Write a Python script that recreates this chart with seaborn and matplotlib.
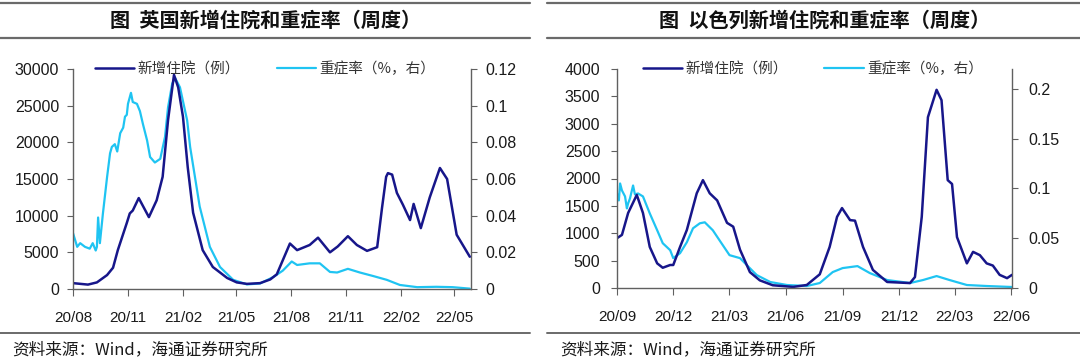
import numpy as np
import pandas as pd
import matplotlib
matplotlib.use("Agg")
import matplotlib.pyplot as plt
import matplotlib.dates as mdates
from matplotlib.lines import Line2D
from matplotlib.ticker import FuncFormatter
import seaborn as sns

# ---- 英国 (UK) ----
uk_hosp_dates = ["2020-08-01", "2020-08-26", "2020-09-10", "2020-09-27", "2020-10-07", "2020-10-15",
                 "2020-10-30", "2020-11-04", "2020-11-09", "2020-11-19", "2020-12-06", "2020-12-19",
                 "2020-12-29", "2021-01-07", "2021-01-17", "2021-01-24", "2021-02-01", "2021-02-09",
                 "2021-02-18", "2021-03-06", "2021-03-23", "2021-04-16", "2021-05-02", "2021-05-19",
                 "2021-06-10", "2021-06-27", "2021-07-08", "2021-07-30", "2021-08-11", "2021-09-01",
                 "2021-09-15", "2021-10-05", "2021-10-18", "2021-11-04", "2021-11-19", "2021-12-06",
                 "2021-12-23", "2021-12-31", "2022-01-07", "2022-01-10", "2022-01-17", "2022-01-25",
                 "2022-02-04", "2022-02-16", "2022-02-22", "2022-03-06", "2022-03-21", "2022-04-07",
                 "2022-04-19", "2022-05-05", "2022-05-27"]
uk_hosp = [800, 600, 900, 1900, 2900, 5300,
           9000, 10300, 10700, 12400, 9800, 12100,
           15300, 23000, 29200, 27500, 23500, 16600,
           10400, 5300, 3000, 1500, 900, 700,
           800, 1300, 2000, 6200, 5300, 6000,
           7000, 5000, 5800, 7200, 6000, 5200,
           5700, 11000, 15300, 15800, 15600, 13100,
           11500, 9400, 11600, 8300, 12500, 16500,
           15000, 7400, 4400]

uk_sev_dates = ["2020-08-01", "2020-08-08", "2020-08-13", "2020-08-21", "2020-08-29", "2020-09-03",
                "2020-09-08", "2020-09-10", "2020-09-12", "2020-09-15", "2020-09-20", "2020-09-27",
                "2020-10-02", "2020-10-05", "2020-10-10", "2020-10-14", "2020-10-19", "2020-10-24",
                "2020-10-27", "2020-10-30", "2020-11-01", "2020-11-06", "2020-11-09", "2020-11-16",
                "2020-11-21", "2020-11-26", "2020-12-03", "2020-12-08", "2020-12-16", "2020-12-25",
                "2021-01-02", "2021-01-07", "2021-01-14", "2021-01-19", "2021-01-27", "2021-02-08",
                "2021-02-13", "2021-03-01", "2021-03-18", "2021-04-04", "2021-04-26", "2021-05-19",
                "2021-06-10", "2021-07-02", "2021-07-18", "2021-08-02", "2021-08-11", "2021-09-01",
                "2021-09-18", "2021-10-05", "2021-10-17", "2021-11-04", "2021-11-24", "2021-12-16",
                "2022-01-08", "2022-01-30", "2022-02-28", "2022-04-01", "2022-04-28", "2022-05-27"]
uk_sev = [0.0305, 0.023, 0.025, 0.023, 0.022, 0.025,
          0.021, 0.023, 0.039, 0.025, 0.041, 0.061,
          0.074, 0.0775, 0.079, 0.075, 0.085, 0.088,
          0.094, 0.095, 0.101, 0.107, 0.102, 0.101,
          0.097, 0.090, 0.081, 0.072, 0.069, 0.071,
          0.083, 0.099, 0.112, 0.115, 0.110, 0.092,
          0.0775, 0.045, 0.023, 0.012, 0.005, 0.0025,
          0.003, 0.0065, 0.010, 0.015, 0.0131, 0.014,
          0.014, 0.0093, 0.009, 0.011, 0.009, 0.0071,
          0.005, 0.0022, 0.001, 0.0012, 0.001, 0.0002]

# ---- 以色列 (Israel) ----
il_hosp_dates = ["2020-09-01", "2020-09-09", "2020-09-19", "2020-10-03", "2020-10-13", "2020-10-24",
                 "2020-11-05", "2020-11-14", "2020-11-26", "2020-12-01", "2020-12-12", "2020-12-23",
                 "2021-01-08", "2021-01-18", "2021-01-29", "2021-02-10", "2021-02-26", "2021-03-08",
                 "2021-03-19", "2021-04-04", "2021-04-20", "2021-05-11", "2021-06-13", "2021-07-05",
                 "2021-07-26", "2021-08-11", "2021-08-23", "2021-08-31", "2021-09-13", "2021-09-21",
                 "2021-10-04", "2021-10-20", "2021-11-12", "2021-12-19", "2021-12-27", "2022-01-07",
                 "2022-01-17", "2022-01-31", "2022-02-08", "2022-02-18", "2022-02-25", "2022-03-05",
                 "2022-03-21", "2022-03-31", "2022-04-11", "2022-04-22", "2022-05-02", "2022-05-13",
                 "2022-05-25", "2022-06-02"]
il_hosp = [910, 970, 1370, 1700, 1370, 750,
           450, 370, 420, 420, 750, 1060,
           1730, 1970, 1730, 1600, 1190, 1120,
           700, 290, 140, 50, 20, 55,
           250, 750, 1300, 1460, 1240, 1230,
           750, 330, 110, 90, 200, 1300,
           3120, 3620, 3430, 1970, 1900, 930,
           450, 660, 600, 450, 410, 240,
           180, 240]

il_sev_dates = ["2020-09-01", "2020-09-04", "2020-09-06", "2020-09-09", "2020-09-14", "2020-09-17",
                "2020-09-19", "2020-09-22", "2020-09-27", "2020-09-30", "2020-10-05", "2020-10-13",
                "2020-10-24", "2020-11-05", "2020-11-14", "2020-11-26", "2020-12-01", "2020-12-12",
                "2020-12-23", "2021-01-02", "2021-01-13", "2021-01-21", "2021-02-03", "2021-02-17",
                "2021-03-02", "2021-03-19", "2021-03-30", "2021-04-15", "2021-05-07", "2021-06-03",
                "2021-07-05", "2021-07-26", "2021-08-16", "2021-09-01", "2021-09-25", "2021-10-15",
                "2021-11-12", "2021-12-19", "2022-01-09", "2022-01-31", "2022-02-21", "2022-03-21",
                "2022-04-22", "2022-06-02"]
il_sev = [0.095, 0.088, 0.105, 0.098, 0.092, 0.080,
          0.085, 0.090, 0.103, 0.094, 0.095, 0.092,
          0.075, 0.058, 0.045, 0.038, 0.030, 0.035,
          0.046, 0.060, 0.065, 0.066, 0.058, 0.045,
          0.033, 0.030, 0.023, 0.013, 0.006, 0.003,
          0.002, 0.005, 0.016, 0.020, 0.022, 0.015,
          0.008, 0.005, 0.008, 0.012, 0.008, 0.003,
          0.002, 0.001]

NAVY = "#17168a"
CYAN = "#1fc4f2"
GREY = "#606060"

sns.set_style("ticks")
plt.rcParams["font.family"] = ["Liberation Sans", "Noto Sans CJK SC", "DejaVu Sans"]
CJK = ["Noto Sans CJK SC", "DejaVu Sans"]

W, H = 1080, 358
fig = plt.figure(figsize=(W / 100, H / 100), dpi=100)


def fx(px):
    return px / W


def fy(py):
    return 1 - py / H


def panel(left, right, top, bottom, hosp_d, hosp_v, sev_d, sev_v, ylim, yticks, ylim2, yticks2,
          months, xlim, title, title_x, leg_x, ypad, ypad2):
    ax = fig.add_axes([fx(left), fy(bottom), fx(right - left), fy(top) - fy(bottom)])
    ax2 = ax.twinx()
    d1 = pd.DataFrame({"date": pd.to_datetime(hosp_d), "val": hosp_v})
    d2 = pd.DataFrame({"date": pd.to_datetime(sev_d), "val": sev_v})
    sns.lineplot(data=d1, x="date", y="val", ax=ax, color=NAVY, lw=1.8)
    sns.lineplot(data=d2, x="date", y="val", ax=ax2, color=CYAN, lw=1.6)
    ax.set_zorder(ax2.get_zorder() + 1)
    ax.patch.set_visible(False)

    ax.set_xlim(pd.Timestamp(xlim[0]), pd.Timestamp(xlim[1]))
    ax.set_ylim(*ylim)
    ax.set_yticks(yticks)
    ax2.set_ylim(*ylim2)
    ax2.set_yticks(yticks2)
    ax2.yaxis.set_major_formatter(FuncFormatter(lambda v, p: f"{v:g}"))
    ax.xaxis.set_major_locator(mdates.MonthLocator(bymonth=months))
    ax.xaxis.set_major_formatter(mdates.DateFormatter("%y/%m"))
    for a in (ax, ax2):
        a.set_xlabel("")
        a.set_ylabel("")
        for s in a.spines.values():
            s.set_color(GREY)
            s.set_linewidth(1.0)
        a.spines["top"].set_visible(False)
    ax.spines["right"].set_visible(False)
    ax2.spines["left"].set_visible(False)
    ax2.spines["bottom"].set_visible(False)
    ax.tick_params(axis="y", direction="out", length=4, color=GREY, labelsize=11.5,
                   labelcolor="#1a1a1a", pad=ypad)
    ax.tick_params(axis="x", direction="out", length=5, color=GREY, labelsize=11,
                   labelcolor="#1a1a1a", pad=11)
    ax2.tick_params(axis="y", direction="out", length=4, color=GREY, labelsize=11.5,
                    labelcolor="#1a1a1a", pad=ypad2)

    handles = [Line2D([], [], color=NAVY, lw=1.8), Line2D([], [], color=CYAN, lw=1.6)]
    ax.legend(handles, ["新增住院（例）", "重症率（%，右）"], loc="center left",
              bbox_to_anchor=(leg_x, 1.0), ncol=2, frameon=False, handlelength=2.7,
              handletextpad=0.25, columnspacing=2.5, borderaxespad=0,
              prop={"family": CJK, "size": 10.5}, labelcolor="#333333")

    fig.text(fx(title_x), fy(20), title, ha="center", va="center",
             fontsize=14.5, fontweight="bold", family=CJK, color="#111111")


panel(73, 471, 69, 289, uk_hosp_dates, uk_hosp, uk_sev_dates, uk_sev,
      (0, 30000), np.arange(0, 30001, 5000), (0, 0.12), np.arange(0, 0.1201, 0.02),
      [2, 5, 8, 11], ("2020-08-01", "2022-05-29"),
      "图  英国新增住院和重症率（周度）", 266, 0.04, 6, 6)

panel(617, 1012, 69, 288, il_hosp_dates, il_hosp, il_sev_dates, il_sev,
      (0, 4000), np.arange(0, 4001, 500), (0, 0.22), [0, 0.05, 0.1, 0.15, 0.2],
      [3, 6, 9, 12], ("2020-09-01", "2022-06-02"),
      "图  以色列新增住院和重症率（周度）", 825, 0.05, 8, 8)

# title and footer rules
for x0, x1 in [(0, 530), (547, 1080)]:
    for yy in (2.5, 38):
        fig.add_artist(Line2D([fx(x0), fx(x1)], [fy(yy), fy(yy)], color="#6a6a6a", lw=1.6))
    fig.add_artist(Line2D([fx(x0), fx(x1)], [fy(333), fy(333)], color="#6a6a6a", lw=1.4))

fig.text(fx(12), fy(350), "资料来源：Wind，海通证券研究所", ha="left", va="center",
         fontsize=12, family=CJK, color="#1a1a1a")
fig.text(fx(560), fy(350), "资料来源：Wind，海通证券研究所", ha="left", va="center",
         fontsize=12, family=CJK, color="#1a1a1a")

fig.savefig("out.png", dpi=100)
